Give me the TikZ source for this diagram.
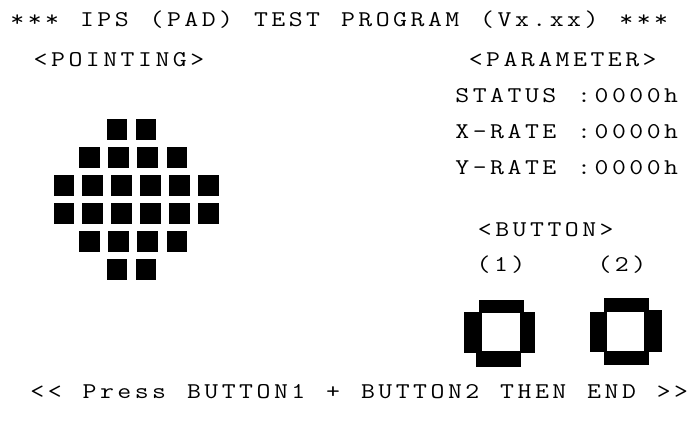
\documentclass[tikz,border=0pt]{standalone}
\usepackage{fontspec}
\newfontfamily\scrfont[FakeStretch=1.2]{Latin Modern Mono}
% fixed character cells, as on a text-mode screen
\newlength\cellw
\setlength\cellw{17.4pt}
\ExplSyntaxOn
\NewDocumentCommand\cells{m}{\str_map_inline:nn{#1}{\makebox[\cellw][c]{##1}}}
\ExplSyntaxOff
\begin{document}
\begin{tikzpicture}[x=1pt,y=-1pt,
  scr/.style={inner sep=0pt,anchor=base west,font=\scrfont\fontsize{22.5}{26}\selectfont},
  blk/.style={fill=black}]
\useasboundingbox (0,0) rectangle (691,423);

% screen texts
\node[scr] (title) at (8.5,27) {\cells{*** IPS (PAD) TEST PROGRAM (Vx.xx) ***}};
\node[scr] (pointing) at (31.8,66) {\cells{<POINTING>}};
\node[scr] (parameter) at (466.8,66) {\cells{<PARAMETER>}};
\node[scr] (status) at (453.5,102) {\cells{STATUS :0000h}};
\node[scr] (xrate) at (453.5,138) {\cells{X-RATE :0000h}};
\node[scr] (yrate) at (453.5,174) {\cells{Y-RATE :0000h}};
\node[scr] (button) at (476,236) {\cells{<BUTTON>}};
\node[scr] (b1) at (474.7,271) {\cells{(1)}};
\node[scr] (b2) at (595.6,271) {\cells{(2)}};
\node[scr] (hint) at (28.5,398) {\cells{<< Press BUTTON1 + BUTTON2 THEN END >>}};

% pointing pad: diamond of square pixels
\foreach \x in {106.7,135.7} {
  \fill[blk] (\x,119.3) rectangle ++(20.7,21);
  \fill[blk] (\x,259) rectangle ++(20.7,21);
}
\foreach \x in {79.3,108.3,137.3,166.7} {
  \fill[blk] (\x,147.3) rectangle ++(20.7,21);
  \fill[blk] (\x,230.7) rectangle ++(20.7,21);
}
\foreach \x in {53.5,82.4,111.3,140.2,169.1,198} {
  \fill[blk] (\x,175) rectangle ++(20.7,21);
  \fill[blk] (\x,202.7) rectangle ++(20.7,21);
}

% button (1) indicator
\fill[blk] (479.3,300) rectangle (524,313.3);
\fill[blk] (464,312.3) rectangle (481.7,352.7);
\fill[blk] (520,312.3) rectangle (535,352.7);
\fill[blk] (476,351) rectangle (520.7,366.7);

% button (2) indicator
\fill[blk] (603.5,297.5) rectangle (649,311.7);
\fill[blk] (589.5,311.5) rectangle (606.7,351.5);
\fill[blk] (644,310) rectangle (661.7,351.5);
\fill[blk] (604,351) rectangle (649.3,365);
\end{tikzpicture}
\end{document}
